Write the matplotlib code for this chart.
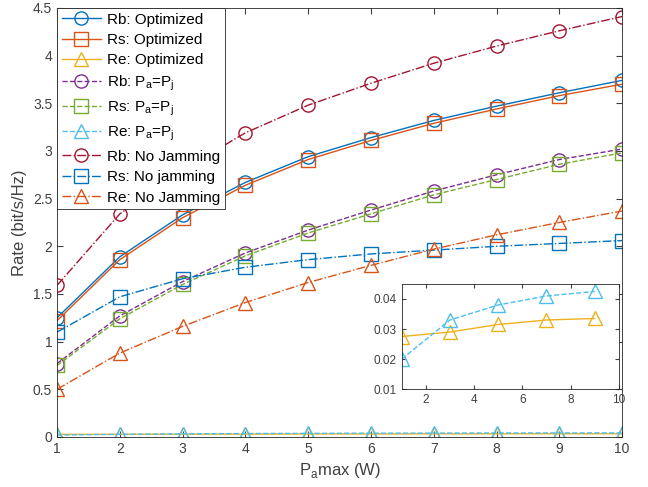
import matplotlib.pyplot as plt
import numpy as np

plt.rcParams['font.family'] = ['Liberation Sans', 'DejaVu Sans']

p_max = np.arange(1, 11)

rb_opt = [1.25, 1.89, 2.33, 2.67, 2.94, 3.14, 3.32, 3.47, 3.61, 3.74]
rs_opt = [1.22, 1.86, 2.30, 2.64, 2.91, 3.11, 3.29, 3.44, 3.58, 3.70]
re_opt = [0.0275, 0.028, 0.029, 0.030, 0.0315, 0.032, 0.033, 0.0333, 0.0335, 0.034]

rb_eq = [0.77, 1.27, 1.63, 1.93, 2.17, 2.38, 2.58, 2.75, 2.91, 3.02]
rs_eq = [0.75, 1.24, 1.60, 1.90, 2.14, 2.34, 2.54, 2.70, 2.86, 2.98]
re_eq = [0.020, 0.028, 0.033, 0.036, 0.038, 0.040, 0.041, 0.042, 0.0425, 0.043]

rb_nj = [1.59, 2.34, 2.80, 3.19, 3.48, 3.71, 3.92, 4.10, 4.26, 4.41]
rs_nj = [1.10, 1.47, 1.66, 1.78, 1.86, 1.92, 1.96, 2.00, 2.03, 2.06]
re_nj = [0.50, 0.88, 1.16, 1.41, 1.62, 1.80, 1.97, 2.12, 2.25, 2.37]

labels = ['Rb: Optimized', 'Rs: Optimized', 'Re: Optimized',
          'Rb: P$_\\mathregular{a}$=P$_\\mathregular{j}$',
          'Rs: P$_\\mathregular{a}$=P$_\\mathregular{j}$',
          'Re: P$_\\mathregular{a}$=P$_\\mathregular{j}$',
          'Rb: No Jamming', 'Rs: No jamming', 'Re: No Jamming']

series = [rb_opt, rs_opt, re_opt, rb_eq, rs_eq, re_eq, rb_nj, rs_nj, re_nj]
colors = ['#0072BD', '#D95319', '#EDB120', '#7E2F8E', '#77AC30', '#4DBEEE',
          '#A2142F', '#0072BD', '#D95319']
styles = ['-', '-', '-', '--', '--', '--', '-.', '-.', '-.']
markers = ['o', 's', '^'] * 3

fig = plt.figure(figsize=(6.48, 4.87), dpi=100)
ax = fig.add_axes([0.088, 0.1027, 0.872, 0.881])

for y, c, ls, m, lab in zip(series, colors, styles, markers, labels):
    ax.plot(p_max, y, color=c, linestyle=ls, marker=m, markersize=9.5,
            markerfacecolor='none', markeredgewidth=1.0, linewidth=1.0, label=lab)

ax.set_xlim(1, 10)
ax.set_ylim(0, 4.5)
ax.set_xticks(p_max)
ax.set_yticks(np.arange(0, 4.51, 0.5))
ax.set_yticklabels(['0', '0.5', '1', '1.5', '2', '2.5', '3', '3.5', '4', '4.5'])
ax.tick_params(direction='in', top=True, right=True, labelsize=10,
               colors='#404040', length=4)
for s in ax.spines.values():
    s.set_color('#262626')
    s.set_linewidth(0.6)
ax.set_xlabel('P$_\\mathregular{a}$max (W)', fontsize=12, color='#404040')
ax.set_ylabel('Rate (bit/s/Hz)', fontsize=12, color='#404040')

leg = ax.legend(loc='upper left', fontsize=11, borderaxespad=0.0,
                handlelength=2.6, labelspacing=0.42, borderpad=0.3,
                handletextpad=0.4, fancybox=False, framealpha=1)
leg.get_frame().set_edgecolor('#262626')
leg.get_frame().set_linewidth(0.6)

# zoomed view of the eavesdropper rates
ins = fig.add_axes([0.620, 0.201, 0.335, 0.216])
ins.plot(p_max[::2], re_opt[::2], color='#EDB120', linestyle='-', marker='^',
         markersize=9.5, markerfacecolor='none', linewidth=1.0)
ins.plot(p_max[::2], re_eq[::2], color='#4DBEEE', linestyle='--', marker='^',
         markersize=9.5, markerfacecolor='none', linewidth=1.0)
ins.set_xlim(1, 10)
ins.set_ylim(0.01, 0.045)
ins.set_xticks([2, 4, 6, 8, 10])
ins.set_yticks([0.01, 0.02, 0.03, 0.04])
ins.tick_params(direction='in', top=True, right=True, labelsize=8.5,
                colors='#404040', length=3)
for s in ins.spines.values():
    s.set_color('#262626')
    s.set_linewidth(0.6)

fig.savefig('out.png', dpi=100)
